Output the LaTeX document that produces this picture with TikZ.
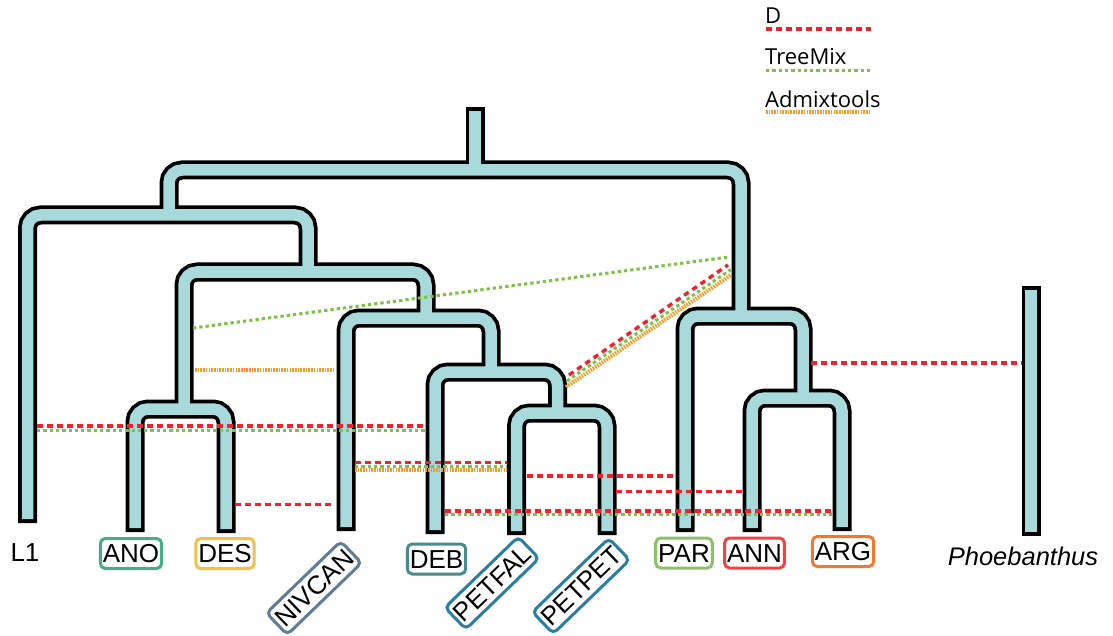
\documentclass[tikz,border=0pt]{standalone}
\usepackage{fontspec}
\setmainfont{Liberation Sans}
\newfontfamily\legfont{Open Sans}
\definecolor{tube}{HTML}{A9DADB}
\definecolor{dred}{HTML}{F7202A}
\definecolor{tgreen}{HTML}{7DC242}
\definecolor{aorange}{HTML}{F89A28}
\definecolor{cANO}{HTML}{4BAA87}
\definecolor{cDES}{HTML}{F5C04A}
\definecolor{cNIV}{HTML}{5F7C99}
\definecolor{cDEB}{HTML}{4A8A8A}
\definecolor{cPET}{HTML}{2B7EA1}
\definecolor{cPAR}{HTML}{8CC06A}
\definecolor{cANN}{HTML}{EE4444}
\definecolor{cARG}{HTML}{EE7A30}
\tikzset{
  tubeout/.style={draw=black, line width=19pt, rounded corners=13pt, line cap=butt},
  tubein/.style={draw=tube, line width=11.5pt, rounded corners=13pt, line cap=butt},
  lab/.style={draw, line width=3pt, rounded corners=5pt, fill=white, inner xsep=2.5pt,
    minimum height=30pt, text height=18.6pt, text depth=0pt,
    font=\fontsize{26}{26}\selectfont},
  plainlab/.style={inner sep=0pt, font=\fontsize{26}{26}\selectfont},
  legtext/.style={inner sep=0pt, font=\legfont\fontsize{22}{22}\selectfont},
  dline/.style={draw=dred, line width=3.4pt, dash pattern=on 5.5pt off 4.5pt},
  tline/.style={draw=tgreen, line width=3pt, dash pattern=on 3.3pt off 3pt},
  aline/.style={draw=aorange, line width=4pt, dash pattern=on 1.6pt off 1.1pt},
}
\begin{document}
\begin{tikzpicture}[x=1pt,y=-1pt]
\useasboundingbox (0,0) rectangle (1113,636);
% ---------- tree: outlines, then fill ----------
\foreach \p in {0,1}{
  \ifnum\p=0 \tikzset{cur/.style={tubeout}}\def\e{0}\else \tikzset{cur/.style={tubein}}\def\e{3.8}\fi
  \draw[cur] (475,107+\e) -- (475,170);
  \draw[cur] (169,215) -- (169,170) -- (741,170) -- (741,316);
  \draw[cur] (27.5,523-\e) -- (27.5,215) -- (308,215) -- (308,272);
  \draw[cur] (184,409) -- (184,272) -- (426,272) -- (426,318);
  \draw[cur] (135,532-\e) -- (135,409) -- (226,409) -- (226,533-\e);
  \draw[cur] (346,531-\e) -- (346,318) -- (491,318) -- (491,372);
  \draw[cur] (435,534-\e) -- (435,372) -- (557.5,372) -- (557.5,413);
  \draw[cur] (516.5,535-\e) -- (516.5,413) -- (607,413) -- (607,535-\e);
  \draw[cur] (685,532-\e) -- (685,316) -- (803,316) -- (803,398);
  \draw[cur] (752,532-\e) -- (752,398) -- (842,398) -- (842,531-\e);
  \draw[cur] (1031,286+\e) -- (1031,536-\e);
}
% ---------- connector end points ----------
\coordinate (g1a) at (193,328);   \coordinate (g1b) at (729,257);
\coordinate (o2a) at (195,370);   \coordinate (o2b) at (335,370);
\coordinate (r3a) at (37,426);    \coordinate (r3b) at (426,426);
\coordinate (g3a) at (37,430);    \coordinate (g3b) at (426,430);
\coordinate (r4a) at (355,462.7); \coordinate (r4b) at (507,462.7);
\coordinate (g4a) at (355,466.3); \coordinate (g4b) at (507,466.3);
\coordinate (o4a) at (355,470.3); \coordinate (o4b) at (507,470.3);
\coordinate (r5a) at (235,504.3); \coordinate (r5b) at (335,504.3);
\coordinate (r6a) at (527,476);   \coordinate (r6b) at (675,476);
\coordinate (r7a) at (616,491.7); \coordinate (r7b) at (743,491.7);
\coordinate (r8a) at (445,511);   \coordinate (r8b) at (834,511);
\coordinate (g8a) at (445,514.7); \coordinate (g8b) at (834,514.7);
\coordinate (r9a) at (811,363);   \coordinate (r9b) at (1022,363);
\coordinate (rda) at (569,375);   \coordinate (rdb) at (728,265);
\coordinate (gda) at (567,381);   \coordinate (gdb) at (731,269.5);
\coordinate (oda) at (566,387);   \coordinate (odb) at (731,275);
% ---------- introgression lines ----------
\draw[tline] (g1a) -- (g1b);
\draw[aline] (o2a) -- (o2b);
\draw[dline] (r3a) -- (r3b);
\draw[tline] (g3a) -- (g3b);
\draw[dline] (r4a) -- (r4b);
\draw[tline] (g4a) -- (g4b);
\draw[aline] (o4a) -- (o4b);
\draw[dline] (r5a) -- (r5b);
\draw[dline] (r6a) -- (r6b);
\draw[dline] (r7a) -- (r7b);
\draw[dline] (r8a) -- (r8b);
\draw[tline] (g8a) -- (g8b);
\draw[dline] (r9a) -- (r9b);
\draw[dline] (rda) -- (rdb);
\draw[tline] (gda) -- (gdb);
\draw[aline] (oda) -- (odb);
% ---------- labels ----------
\node[plainlab] (l1) at (25,553) {L1};
\node[lab, draw=cANO] (ano) at (131,553.5) {ANO};
\node[lab, draw=cDES] (des) at (225,553.5) {DES};
\node[lab, draw=cNIV, rotate=44] (niv) at (314,588) {NIVCAN};
\node[lab, draw=cDEB] (deb) at (436.5,559) {DEB};
\node[lab, draw=cPET, rotate=44] (petfal) at (492,583) {PETFAL};
\node[lab, draw=cPET, rotate=44] (petpet) at (581,586) {PETPET};
\node[lab, draw=cPAR] (par) at (684,553) {PAR};
\node[lab, draw=cANN] (ann) at (754.5,553) {ANN};
\node[lab, draw=cARG] (arg) at (843,551.5) {ARG};
\node[plainlab, font=\fontsize{25.5}{25.5}\selectfont\itshape] (pho) at (1023,556) {Phoebanthus};
% ---------- legend ----------
\node[legtext, anchor=base west] (legd) at (765,24) {D};
\node[legtext, anchor=base west] (legt) at (765,64.3) {TreeMix};
\node[legtext, anchor=base west] (lega) at (765,107.3) {Admixtools};
\coordinate (ld1) at (766,29);    \coordinate (ld2) at (871,29);
\coordinate (lt1) at (766,70.7);  \coordinate (lt2) at (871,70.7);
\coordinate (la1) at (766,112.5); \coordinate (la2) at (871,112.5);
\draw[dline] (ld1) -- (ld2);
\draw[tline] (lt1) -- (lt2);
\draw[aline] (la1) -- (la2);
\end{tikzpicture}
\end{document}
